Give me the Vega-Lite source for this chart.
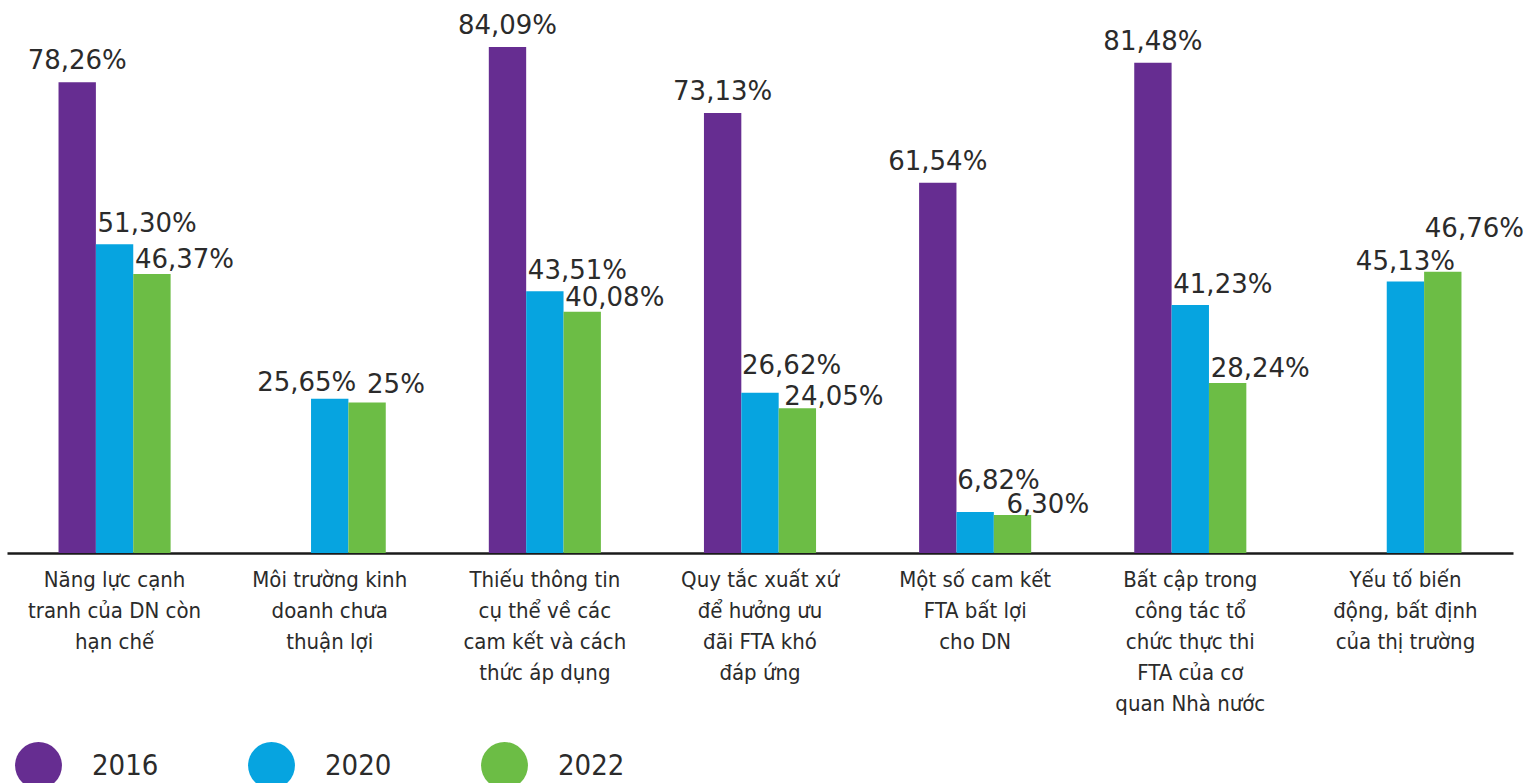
{
  "$schema": "https://vega.github.io/schema/vega-lite/v6.json",
  "width": 1506,
  "height": 543,
  "autosize": {"type": "none"},
  "padding": {"left": 7, "top": 10, "right": 14, "bottom": 230},
  "background": "white",
  "config": {"view": {"stroke": null}, "font": "DejaVu Sans"},
  "data": {
    "values": [
      {"g": 1, "cat": "Năng lực cạnh|tranh của DN còn|hạn chế", "year": "2016", "value": 78.26, "label": "78,26%"},
      {"g": 1, "cat": "Năng lực cạnh|tranh của DN còn|hạn chế", "year": "2020", "value": 51.30, "label": "51,30%"},
      {"g": 1, "cat": "Năng lực cạnh|tranh của DN còn|hạn chế", "year": "2022", "value": 46.37, "label": "46,37%"},
      {"g": 2, "cat": "Môi trường kinh|doanh chưa|thuận lợi", "year": "2020", "value": 25.65, "label": "25,65%"},
      {"g": 2, "cat": "Môi trường kinh|doanh chưa|thuận lợi", "year": "2022", "value": 25, "label": "25%"},
      {"g": 3, "cat": "Thiếu thông tin|cụ thể về các|cam kết và cách|thức áp dụng", "year": "2016", "value": 84.09, "label": "84,09%"},
      {"g": 3, "cat": "Thiếu thông tin|cụ thể về các|cam kết và cách|thức áp dụng", "year": "2020", "value": 43.51, "label": "43,51%"},
      {"g": 3, "cat": "Thiếu thông tin|cụ thể về các|cam kết và cách|thức áp dụng", "year": "2022", "value": 40.08, "label": "40,08%"},
      {"g": 4, "cat": "Quy tắc xuất xứ|để hưởng ưu|đãi FTA khó|đáp ứng", "year": "2016", "value": 73.13, "label": "73,13%"},
      {"g": 4, "cat": "Quy tắc xuất xứ|để hưởng ưu|đãi FTA khó|đáp ứng", "year": "2020", "value": 26.62, "label": "26,62%"},
      {"g": 4, "cat": "Quy tắc xuất xứ|để hưởng ưu|đãi FTA khó|đáp ứng", "year": "2022", "value": 24.05, "label": "24,05%"},
      {"g": 5, "cat": "Một số cam kết|FTA bất lợi|cho DN", "year": "2016", "value": 61.54, "label": "61,54%"},
      {"g": 5, "cat": "Một số cam kết|FTA bất lợi|cho DN", "year": "2020", "value": 6.82, "label": "6,82%"},
      {"g": 5, "cat": "Một số cam kết|FTA bất lợi|cho DN", "year": "2022", "value": 6.30, "label": "6,30%"},
      {"g": 6, "cat": "Bất cập trong|công tác tổ|chức thực thi|FTA của cơ|quan Nhà nước", "year": "2016", "value": 81.48, "label": "81,48%"},
      {"g": 6, "cat": "Bất cập trong|công tác tổ|chức thực thi|FTA của cơ|quan Nhà nước", "year": "2020", "value": 41.23, "label": "41,23%"},
      {"g": 6, "cat": "Bất cập trong|công tác tổ|chức thực thi|FTA của cơ|quan Nhà nước", "year": "2022", "value": 28.24, "label": "28,24%"},
      {"g": 7, "cat": "Yếu tố biến|động, bất định|của thị trường", "year": "2020", "value": 45.13, "label": "45,13%"},
      {"g": 7, "cat": "Yếu tố biến|động, bất định|của thị trường", "year": "2022", "value": 46.76, "label": "46,76%"}
    ]
  },
  "encoding": {
    "x": {
      "field": "cat",
      "type": "nominal",
      "sort": null,
      "scale": {"paddingInner": 0.479, "paddingOuter": 0.2395},
      "axis": {
        "title": null,
        "labelExpr": "split(datum.label, '|')",
        "labelAngle": 0,
        "labelFontSize": 22,
        "labelFont": "DejaVu Sans Condensed, Roboto Condensed, Roboto",
        "labelColor": "#2b2b2b",
        "labelLineHeight": 31,
        "labelPadding": 16,
        "labelLimit": 0,
        "labelBaseline": "top",
        "ticks": false,
        "domainColor": "#1a1a1a",
        "domainWidth": 2.5,
        "grid": false
      }
    },
    "xOffset": {
      "field": "year",
      "type": "nominal",
      "scale": {"domain": ["2016", "2020", "2022"], "paddingInner": 0, "paddingOuter": 0}
    },
    "y": {
      "field": "value",
      "type": "quantitative",
      "scale": {"domain": [0, 90.25]},
      "axis": null
    }
  },
  "layer": [
    {
      "mark": {"type": "bar"},
      "encoding": {
        "color": {
          "field": "year",
          "type": "nominal",
          "scale": {"domain": ["2016", "2020", "2022"], "range": ["#662d91", "#06a4e0", "#6cbd45"]},
          "legend": {
            "orient": "none",
            "legendX": 8,
            "legendY": 732,
            "direction": "horizontal",
            "title": null,
            "symbolType": "circle",
            "symbolSize": 2200,
            "symbolStrokeWidth": 0,
            "labelFontSize": 29,
            "labelFont": "DejaVu Sans Condensed, Roboto Condensed, Roboto",
            "labelColor": "#2b2b2b",
            "labelOffset": 30,
            "columnPadding": 89,
            "padding": 0
          }
        }
      }
    },
    {
      "transform": [{"filter": "datum.year == '2016'"}],
      "mark": {"type": "text", "align": "center", "baseline": "alphabetic", "dy": -13, "fontSize": 26, "color": "#2b2b2b"},
      "encoding": {"text": {"field": "label"}}
    },
    {
      "transform": [{"filter": "datum.year == '2020' && datum.g == 2"}],
      "mark": {"type": "text", "align": "center", "baseline": "alphabetic", "dx": -23, "dy": -8, "fontSize": 26, "color": "#2b2b2b"},
      "encoding": {"text": {"field": "label"}}
    },
    {
      "transform": [{"filter": "datum.year == '2020' && datum.g == 7"}],
      "mark": {"type": "text", "align": "center", "baseline": "alphabetic", "dy": -11, "fontSize": 26, "color": "#2b2b2b"},
      "encoding": {"text": {"field": "label"}}
    },
    {
      "transform": [{"filter": "datum.year == '2020' && datum.g == 4"}],
      "mark": {"type": "text", "align": "left", "baseline": "alphabetic", "dx": -18, "dy": -19, "fontSize": 26, "color": "#2b2b2b"},
      "encoding": {"text": {"field": "label"}}
    },
    {
      "transform": [{"filter": "datum.year == '2020' && datum.g == 5"}],
      "mark": {"type": "text", "align": "left", "baseline": "alphabetic", "dx": -18, "dy": -23, "fontSize": 26, "color": "#2b2b2b"},
      "encoding": {"text": {"field": "label"}}
    },
    {
      "transform": [{"filter": "datum.year == '2020' && (datum.g == 1 || datum.g == 3 || datum.g == 6)"}],
      "mark": {"type": "text", "align": "left", "baseline": "alphabetic", "dx": -17, "dy": -12, "fontSize": 26, "color": "#2b2b2b"},
      "encoding": {"text": {"field": "label"}}
    },
    {
      "transform": [{"filter": "datum.year == '2022' && datum.g == 2"}],
      "mark": {"type": "text", "align": "left", "baseline": "alphabetic", "dx": 0, "dy": -10, "fontSize": 26, "color": "#2b2b2b"},
      "encoding": {"text": {"field": "label"}}
    },
    {
      "transform": [{"filter": "datum.year == '2022' && datum.g == 4"}],
      "mark": {"type": "text", "align": "left", "baseline": "alphabetic", "dx": -13, "dy": -3, "fontSize": 26, "color": "#2b2b2b"},
      "encoding": {"text": {"field": "label"}}
    },
    {
      "transform": [{"filter": "datum.year == '2022' && datum.g == 5"}],
      "mark": {"type": "text", "align": "left", "baseline": "alphabetic", "dx": -6, "dy": -2, "fontSize": 26, "color": "#2b2b2b"},
      "encoding": {"text": {"field": "label"}}
    },
    {
      "transform": [{"filter": "datum.year == '2022' && datum.g == 7"}],
      "mark": {"type": "text", "align": "left", "baseline": "alphabetic", "dx": -18, "dy": -35, "fontSize": 26, "color": "#2b2b2b"},
      "encoding": {"text": {"field": "label"}}
    },
    {
      "transform": [{"filter": "datum.year == '2022' && (datum.g == 1 || datum.g == 3 || datum.g == 6)"}],
      "mark": {"type": "text", "align": "left", "baseline": "alphabetic", "dx": -17, "dy": -6, "fontSize": 26, "color": "#2b2b2b"},
      "encoding": {"text": {"field": "label"}}
    }
  ]
}
